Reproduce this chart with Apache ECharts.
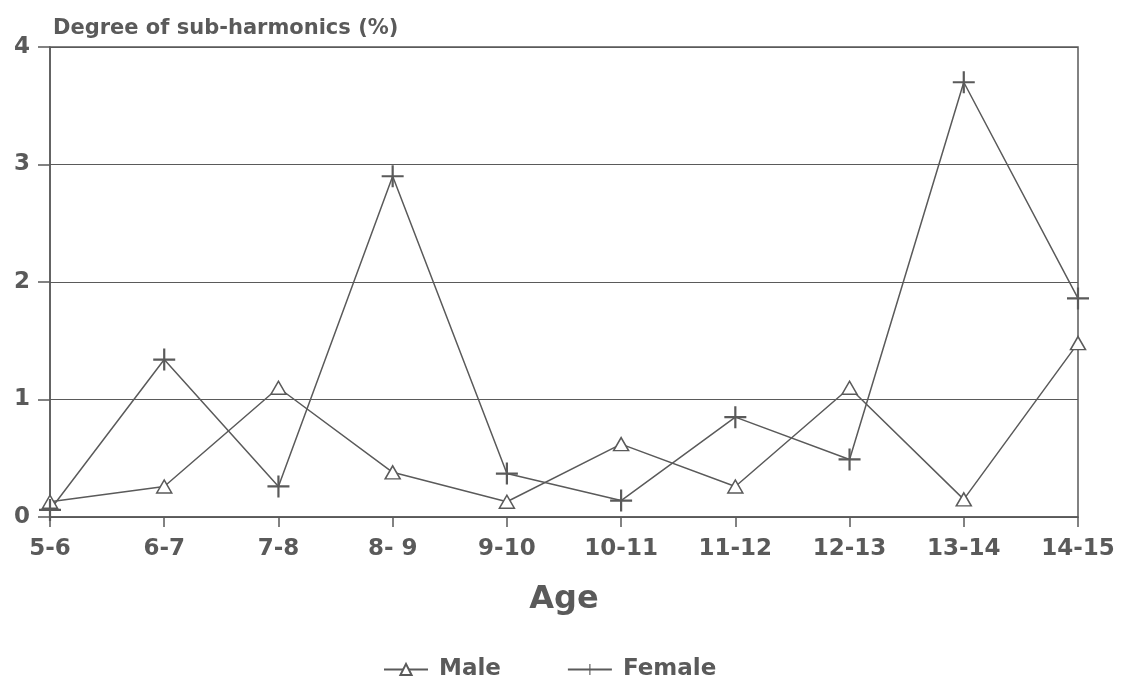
<!DOCTYPE html>
<html>
<head>
<meta charset="utf-8">
<script src="https://cdn.jsdelivr.net/npm/echarts@6/dist/echarts.min.js"></script>
<style>
html, body { margin: 0; padding: 0; background: #fff; }
#chart { width: 1122px; height: 688px; }
</style>
</head>
<body>
<div id="chart"></div>
<script>
// age groups on the x axis
let ages = ['5-6', '6-7', '7-8', '8- 9', '9-10', '10-11', '11-12', '12-13', '13-14', '14-15'];
// degree of sub-harmonics (%)
let male = [0.13, 0.26, 1.1, 0.38, 0.13, 0.62, 0.26, 1.1, 0.15, 1.48];
let female = [0.06, 1.34, 0.26, 2.9, 0.37, 0.14, 0.85, 0.49, 3.7, 1.86];

let ink = '#5a5a5a';
let font = 'DejaVu Sans';
let plus = 'path://M-1,-10 L1,-10 L1,-1 L10,-1 L10,1 L1,1 L1,10 L-1,10 L-1,1 L-10,1 L-10,-1 L-1,-1 Z';

let chart = echarts.init(document.getElementById('chart'));
let option = {
    backgroundColor: '#fff',
    textStyle: { fontFamily: font, fontWeight: 'bold', color: ink },
    title: {
        text: 'Degree of sub-harmonics (%)',
        left: 48, top: 13,
        textStyle: { fontSize: 21, fontWeight: 'bold', color: ink, fontFamily: font }
    },
    legend: {
        bottom: 2,
        left: 378,
        itemWidth: 44,
        itemHeight: 14,
        itemGap: 66,
        textStyle: { fontSize: 23, fontWeight: 'bold', color: ink, fontFamily: font, padding: [0, 0, 0, 6] },
        data: ['Male', 'Female']
    },
    grid: { left: 50, right: 44, top: 47, bottom: 171, show: true, borderColor: ink, borderWidth: 1.5 },
    xAxis: {
        type: 'category',
        boundaryGap: false,
        data: ages,
        name: 'Age',
        nameLocation: 'middle',
        nameGap: 67,
        nameTextStyle: { fontSize: 32, fontWeight: 'bold', color: ink, fontFamily: font },
        axisLine: { lineStyle: { color: ink, width: 1.5 } },
        axisTick: { length: 10, lineStyle: { color: ink, width: 1.5 } },
        axisLabel: { fontSize: 23, fontWeight: 'bold', color: ink, margin: 21, fontFamily: font },
        splitLine: { show: false }
    },
    yAxis: {
        type: 'value',
        min: 0, max: 4, interval: 1,
        axisLine: { show: true, lineStyle: { color: ink, width: 1.5 } },
        axisTick: { show: true, length: 12, lineStyle: { color: ink, width: 1.5 } },
        axisLabel: { fontSize: 23, fontWeight: 'bold', color: ink, margin: 20, fontFamily: font },
        splitLine: { show: true, lineStyle: { color: ink, width: 1.2 } }
    },
    series: [
        {
            name: 'Male',
            type: 'line',
            data: male,
            symbol: 'triangle',
            symbolSize: [15, 13],
            lineStyle: { color: ink, width: 1.5 },
            itemStyle: { color: '#fff', borderColor: ink, borderWidth: 1.5 }
        },
        {
            name: 'Female',
            type: 'line',
            data: female,
            symbol: plus,
            symbolSize: 22,
            lineStyle: { color: ink, width: 1.5 },
            itemStyle: { color: ink }
        }
    ]
};
chart.setOption(option);
</script>
</body>
</html>
